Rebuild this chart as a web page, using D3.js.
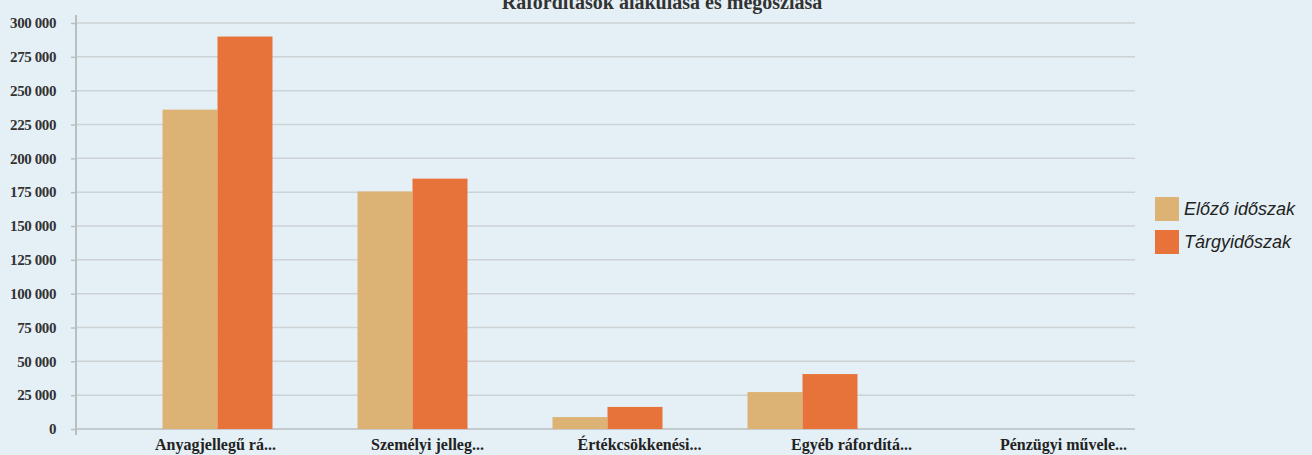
<!DOCTYPE html>
<html>
<head>
<meta charset="utf-8">
<script src="https://cdn.jsdelivr.net/npm/d3@7"></script>
<style>
  html, body { margin: 0; padding: 0; background: #e5f0f6; }
  svg { display: block; }
</style>
</head>
<body>
<svg id="chart" width="1312" height="455"></svg>
<script>
// Data
const title = 'Ráfordítások alakulása és megoszlása';
const categories = ['Anyagjellegű rá...', 'Személyi jelleg...', 'Értékcsökkenési...', 'Egyéb ráfordítá...', 'Pénzügyi művele...'];
const seriesNames = ['Előző időszak', 'Tárgyidőszak'];
const elozo = [236000, 175500, 8800, 27300, 0];
const targy = [290000, 185000, 16300, 40600, 0];
const yTicks = [0, 25000, 50000, 75000, 100000, 125000, 150000, 175000, 200000, 225000, 250000, 275000, 300000];
const colors = ['#dcb374', '#e8733a'];

const svg = d3.select('#chart');

// Scales
const y = d3.scaleLinear().domain([0, 300000]).range([429, 23]);

const x = d3.scaleBand()
  .domain(categories)
  .range([120, 1095])
  .paddingInner(0.436)
  .paddingOuter(0.218);

const xSub = d3.scaleBand()
  .domain(seriesNames)
  .range([0, x.bandwidth()]);

// label positions sit a bit off the bars in the original
const xLabel = d3.scalePoint()
  .domain(categories)
  .range([109, 1169])
  .padding(0.5);

const fmt = v => d3.format(',')(v).replace(/,/g, ' ');

// Gridlines
svg.append('g')
  .selectAll('line')
  .data(yTicks)
  .enter()
  .append('line')
  .attr('x1', 76)
  .attr('x2', 1135)
  .attr('y1', d => y(d))
  .attr('y2', d => y(d))
  .attr('stroke', d => d === 0 ? '#b9bec1' : '#cdd2d5')
  .attr('stroke-width', 1.5);

// Y axis
const yAxis = svg.append('g')
  .attr('transform', 'translate(76,0)')
  .call(d3.axisLeft(y).tickValues(yTicks).tickFormat(fmt).tickSize(5).tickPadding(15));

yAxis.select('.domain').remove();
yAxis.selectAll('.tick line').attr('stroke', '#b9bec1').attr('stroke-width', 1.5);
yAxis.selectAll('text')
  .attr('fill', '#333')
  .style('font-family', '"Liberation Serif", "DejaVu Serif", serif')
  .style('font-weight', 'bold')
  .style('font-size', '15px')
  .style('letter-spacing', '-0.4px');

svg.append('line')
  .attr('x1', 76).attr('x2', 76)
  .attr('y1', 15).attr('y2', 435)
  .attr('stroke', '#b9bec1')
  .attr('stroke-width', 2);

// Bars
const rows = categories.map((c, i) => ({ cat: c, values: [elozo[i], targy[i]] }));

const groups = svg.append('g')
  .selectAll('g')
  .data(rows)
  .enter()
  .append('g')
  .attr('transform', d => `translate(${x(d.cat)},0)`);

groups.selectAll('rect')
  .data(d => d.values.map((v, j) => ({ name: seriesNames[j], value: v, j })))
  .enter()
  .append('rect')
  .attr('x', d => xSub(d.name))
  .attr('width', xSub.bandwidth())
  .attr('y', d => y(d.value))
  .attr('height', d => y(0) - y(d.value))
  .attr('fill', d => colors[d.j]);

// X labels
const xAxis = svg.append('g')
  .attr('transform', 'translate(0,436)')
  .call(d3.axisBottom(xLabel).tickSize(0).tickPadding(3));

xAxis.select('.domain').remove();
xAxis.selectAll('text')
  .attr('fill', '#222')
  .style('font-family', '"Liberation Serif", "DejaVu Serif", serif')
  .style('font-weight', 'bold')
  .style('font-size', '16px');

// Title (cut at the top edge like the scan)
svg.append('text')
  .attr('x', 662)
  .attr('y', 9)
  .attr('text-anchor', 'middle')
  .attr('fill', '#333')
  .style('font-family', '"Liberation Serif", "DejaVu Serif", serif')
  .style('font-weight', 'bold')
  .style('font-size', '20px')
  .text(title);

// Legend
const legend = svg.append('g')
  .attr('transform', 'translate(1155,197)')
  .selectAll('g')
  .data(seriesNames)
  .enter()
  .append('g')
  .attr('transform', (d, i) => `translate(0,${i * 33})`);

legend.append('rect')
  .attr('width', 24)
  .attr('height', 24)
  .attr('fill', (d, i) => colors[i]);

legend.append('text')
  .attr('x', 29)
  .attr('y', 18)
  .attr('fill', '#222')
  .style('font-family', '"Liberation Sans", Arial, sans-serif')
  .style('font-style', 'italic')
  .style('font-size', '18px')
  .text(d => d);
</script>
</body>
</html>
